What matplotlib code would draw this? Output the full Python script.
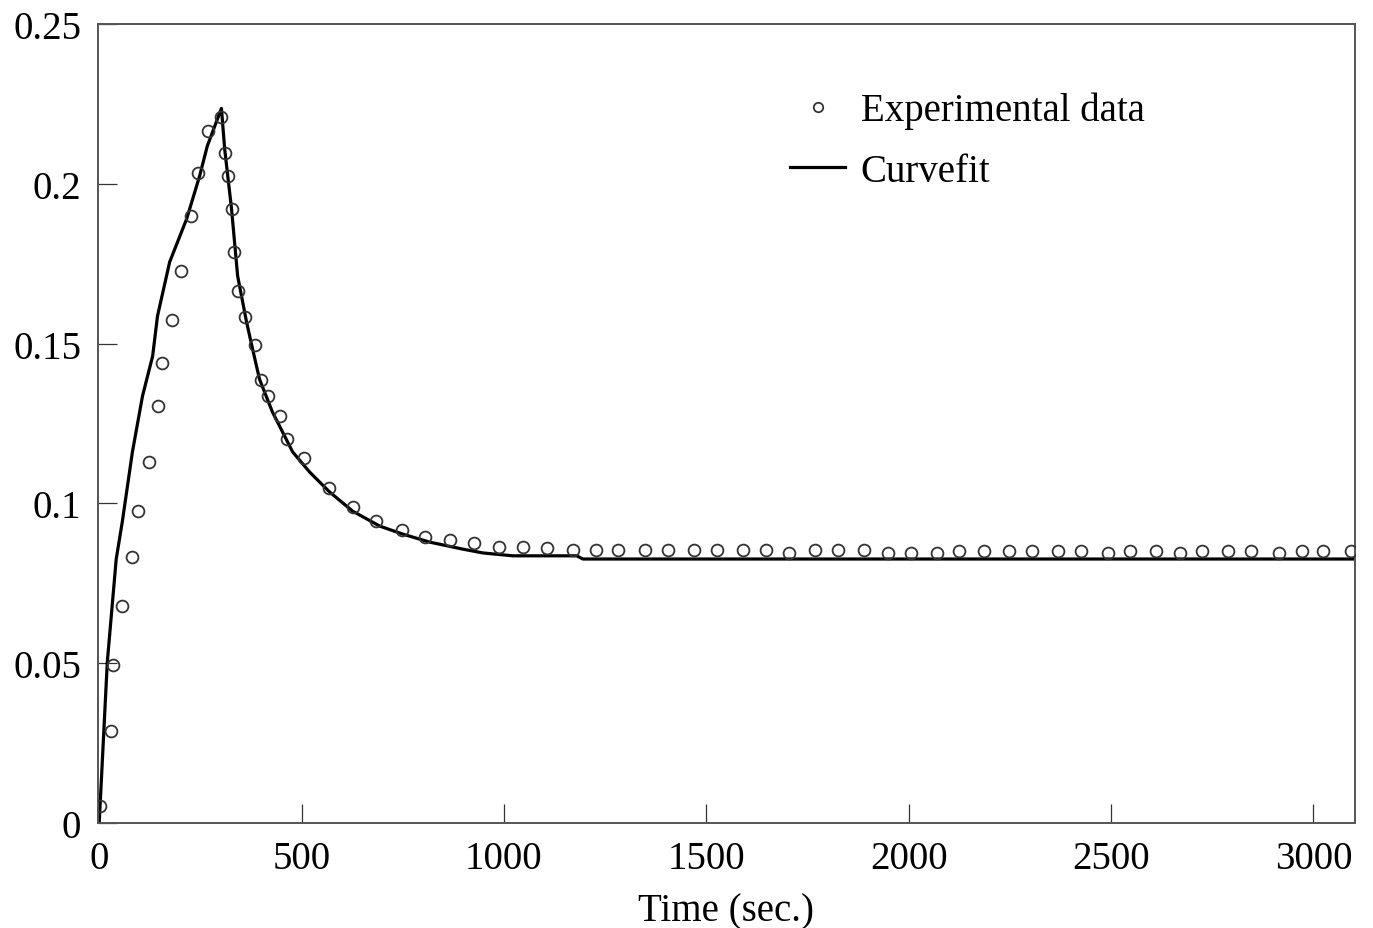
import matplotlib
matplotlib.use("Agg")
import matplotlib.pyplot as plt

plt.rcParams['font.family'] = ['Liberation Serif', 'DejaVu Serif']

# Experimental data (time in s, value)
exp_t = [1, 28, 33, 57, 82, 97, 122, 146, 156, 181, 203, 228, 243, 268, 302,
         310, 317, 327, 334, 342, 359, 384, 399, 416, 446, 463, 505, 569, 626,
         683, 747, 804, 868, 925, 987, 1047, 1106, 1170, 1227, 1281, 1348, 1405,
         1469, 1526, 1591, 1647, 1704, 1769, 1826, 1890, 1949, 2006, 2070, 2125,
         2187, 2248, 2305, 2370, 2427, 2493, 2548, 2612, 2671, 2726, 2790, 2847,
         2914, 2971, 3025, 3092]
exp_y = [0.0053, 0.0288, 0.0494, 0.0679, 0.0832, 0.0976, 0.1130, 0.1305, 0.1439,
         0.1574, 0.1727, 0.1899, 0.2033, 0.2165, 0.2209, 0.2096, 0.2024, 0.1921,
         0.1787, 0.1665, 0.1583, 0.1496, 0.1386, 0.1336, 0.1274, 0.1202, 0.1142,
         0.1048, 0.0989, 0.0945, 0.0917, 0.0895, 0.0885, 0.0876, 0.0864, 0.0864,
         0.0860, 0.0854, 0.0854, 0.0854, 0.0854, 0.0854, 0.0854, 0.0854, 0.0854,
         0.0854, 0.0845, 0.0854, 0.0854, 0.0854, 0.0845, 0.0845, 0.0845, 0.0851,
         0.0851, 0.0851, 0.0851, 0.0851, 0.0851, 0.0845, 0.0851, 0.0851, 0.0845,
         0.0851, 0.0851, 0.0851, 0.0845, 0.0851, 0.0851, 0.0851]

# Curve fit
fit_t = [0, 20, 42, 57, 82, 107, 132, 144, 174, 216, 248, 267, 302, 310, 327,
         342, 364, 379, 396, 428, 478, 520, 569, 626, 693, 750, 816, 898, 948,
         1022, 1180, 1195, 3100]
fit_y = [0.0, 0.0504, 0.0826, 0.0942, 0.1161, 0.1336, 0.1461, 0.1586, 0.1755,
         0.1890, 0.2024, 0.2118, 0.2236, 0.2109, 0.1921, 0.1712, 0.1568, 0.1483,
         0.1389, 0.1286, 0.1161, 0.1098, 0.1036, 0.0976, 0.0929, 0.0904, 0.0879,
         0.0857, 0.0845, 0.0836, 0.0836, 0.0826, 0.0826]

x_ticks = [0, 500, 1000, 1500, 2000, 2500, 3000]
y_ticks = [0, 0.05, 0.1, 0.15, 0.2, 0.25]
y_ticklabels = ['0', '0.05', '0.1', '0.15', '0.2', '0.25']

FS = 28

fig = plt.figure(figsize=(13.73, 9.29), dpi=100)
ax = fig.add_axes([98/1373, 1 - 824/929, (1355-98)/1373, (824-25)/929])

ax.plot(fit_t, fit_y, color='black', lw=2.3, label='Curvefit', zorder=2)
ax.plot(exp_t, exp_y, linestyle='none', marker='o', ms=8.5, mfc='none',
        mec='#333333', mew=1.3, label='Experimental data', zorder=3, clip_on=True)

ax.set_xlim(-3, 3103)
ax.set_ylim(0, 0.25)
ax.set_xticks(x_ticks)
ax.set_xticklabels([str(v) for v in x_ticks])
ax.set_yticks(y_ticks)
ax.set_yticklabels(y_ticklabels)

ax.tick_params(axis='both', direction='in', length=14, width=0.9, color='#333333',
               labelsize=FS, top=False, right=False)
ax.tick_params(axis='x', pad=12)
ax.tick_params(axis='y', pad=12)
for s in ax.spines.values():
    s.set_color('#555555')
    s.set_linewidth(1.4)

ax.set_xlabel('Time (sec.)', fontsize=FS, labelpad=11)

handles, labels = ax.get_legend_handles_labels()
leg = ax.legend(handles[::-1], labels[::-1], loc='upper left',
                bbox_to_anchor=(0.5505, 0.915), frameon=False, fontsize=FS,
                handlelength=1.42, handletextpad=0.4, labelspacing=0.6,
                borderpad=0, borderaxespad=0, markerscale=0.8)

fig.savefig('out.png', dpi=100)
